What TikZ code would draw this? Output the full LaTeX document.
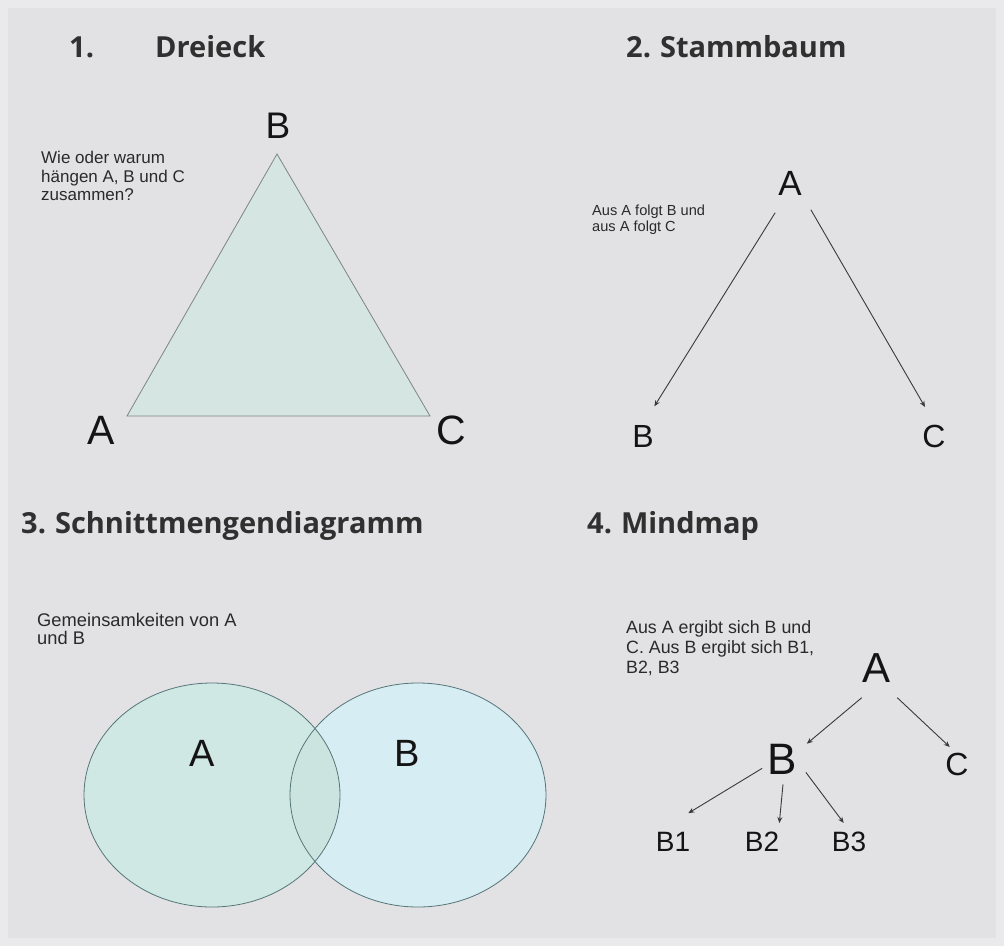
\documentclass[tikz,border=0pt]{standalone}
\usepackage{fontspec}
\setmainfont{Liberation Sans}
\newfontfamily\headfont{Open Sans}
\usetikzlibrary{arrows.meta}
\definecolor{paper}{HTML}{E2E1E3}
\definecolor{rim}{HTML}{EAEAEC}
\definecolor{headgray}{HTML}{303030}
\definecolor{notegray}{HTML}{2A2A2A}
\definecolor{trifill}{HTML}{D5E5E1}
\definecolor{triline}{HTML}{7E8584}
\definecolor{setAfill}{HTML}{D0E8E3}
\definecolor{setBfill}{HTML}{D6EDF3}
\definecolor{setABfill}{HTML}{CBE4DF}
\definecolor{setline}{HTML}{56767A}
\definecolor{arrgray}{HTML}{3A3A3A}

\begin{document}
\begin{tikzpicture}
[every node/.style={inner sep=0pt},
 head/.style={anchor=base west, text=headgray, font=\headfont\bfseries\fontsize{29}{29}\selectfont},
 note/.style={anchor=north west, align=left, text=notegray},
 letter/.style={text=black!92},
 setedge/.style={draw=setline, line width=0.8pt},
 arr/.style={line width=0.9pt, -{Stealth[length=6pt, width=5pt]}, color=arrgray}]
\useasboundingbox (0pt, 0pt) rectangle (1004pt, -946pt);
\fill [rim] (0pt, 0pt) rectangle (1004pt, -946pt);
\fill [paper] (8pt, -8pt) rectangle (996pt, -938pt);
\node (h1) [head] at (69pt, -57pt) {1.};
\node (h1b) [head] at (155pt, -57pt) {Dreieck};
\node (h2) [head] at (626pt, -57pt) {2.\kern-1pt{} Stammbaum};
\node (h3) [head] at (21pt, -533pt) {3.\kern-1pt{} Schnittmengendiagramm};
\node (h4) [head] at (587pt, -533pt) {4.\kern-1pt{} Mindmap};
\coordinate (tA) at (127pt, -416pt);
\coordinate (tB) at (277pt, -154pt);
\coordinate (tC) at (430pt, -416pt);
\draw [fill=trifill, draw=triline, line width=0.8pt] (tA) -- (tB) -- (tC) -- cycle;
\node (dB) [letter, font=\fontsize{37}{37}\selectfont] at (278pt, -126pt) {B};
\node (dA) [letter, font=\fontsize{41}{41}\selectfont] at (101pt, -430pt) {A};
\node (dC) [letter, font=\fontsize{41}{41}\selectfont] at (451pt, -430pt) {C};
\node (dnote) [note, font=\fontsize{17}{18.5}\selectfont] at (41pt, -151pt) {Wie oder warum\\hängen A, B und C\\zusammen?};
\node (sA) [letter, font=\fontsize{35}{35}\selectfont] at (790pt, -183pt) {A};
\node (sB) [letter, font=\fontsize{32}{32}\selectfont] at (643pt, -436pt) {B};
\node (sC) [letter, font=\fontsize{32}{32}\selectfont] at (934pt, -436pt) {C};
\node (snote) [note, font=\fontsize{14.6}{16}\selectfont] at (592pt, -204.5pt) {Aus A folgt B und\\aus A folgt C};
\draw [arr] ([shift={(-3pt,-17.5pt)}]sA.south west) -- ([shift={(0.5pt,18.5pt)}]sB.north east);
\draw [arr] ([shift={(9pt,-14.5pt)}]sA.south east) -- ([shift={(-9pt,17.5pt)}]sC.north);
\fill [setAfill] (212pt, -795pt) ellipse [x radius=128pt, y radius=112pt];
\fill [setBfill] (418pt, -795pt) ellipse [x radius=128pt, y radius=112pt];
\begin{scope}
\clip (212pt, -795pt) ellipse [x radius=128pt, y radius=112pt];
\fill [setABfill] (418pt, -795pt) ellipse [x radius=128pt, y radius=112pt];
\end{scope}
\draw [setedge] (212pt, -795pt) ellipse [x radius=128pt, y radius=112pt];
\draw [setedge] (418pt, -795pt) ellipse [x radius=128pt, y radius=112pt];
\node (vA) [letter, font=\fontsize{38}{38}\selectfont] at (202pt, -753pt) {A};
\node (vB) [letter, font=\fontsize{38}{38}\selectfont] at (407pt, -753pt) {B};
\node (vnote) [note, font=\fontsize{18.3}{18}\selectfont] at (37pt, -613.5pt) {Gemeinsamkeiten von A\\und B};
\node (mA) [letter, font=\fontsize{42}{42}\selectfont] at (876pt, -668pt) {A};
\node (mB) [letter, font=\fontsize{44}{44}\selectfont] at (782pt, -759pt) {B};
\node (mC) [letter, font=\fontsize{32}{32}\selectfont] at (957pt, -764pt) {C};
\node (mB1) [letter, font=\fontsize{28}{28}\selectfont] at (673pt, -842pt) {B1};
\node (mB2) [letter, font=\fontsize{28}{28}\selectfont] at (762pt, -842pt) {B2};
\node (mB3) [letter, font=\fontsize{28}{28}\selectfont] at (849pt, -842pt) {B3};
\node (mnote) [note, font=\fontsize{17.8}{20}\selectfont] at (626pt, -620pt) {Aus A ergibt sich B und\\C. Aus B ergibt sich B1,\\B2, B3};
\draw [arr] ([yshift=-15pt]mA.south west) -- ([xshift=10pt]mB.north east);
\draw [arr] ([shift={(7pt,-15pt)}]mA.south east) -- ([shift={(4.5pt,5.5pt)}]mC.north west);
\draw [arr] ([shift={(-5pt,6pt)}]mB.south west) -- ([shift={(-2pt,19pt)}]mB1.north east);
\draw [arr] ([shift={(1pt,-10pt)}]mB.south) -- ([yshift=9pt]mB2.north east);
\draw [arr] ([shift={(9pt,2pt)}]mB.south east) -- ([shift={(12pt,9pt)}]mB3.north west);
\end{tikzpicture}
\end{document}
